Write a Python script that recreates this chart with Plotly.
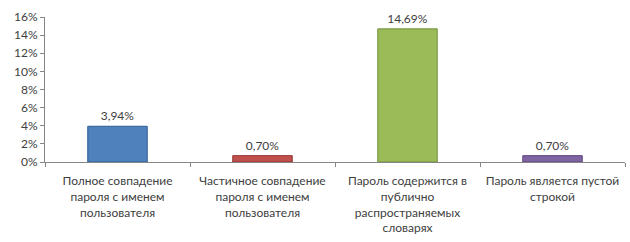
import plotly.graph_objects as go

categories = [
    "Полное совпадение<br>пароля с именем<br>пользователя",
    "Частичное совпадение<br>пароля с именем<br>пользователя",
    "Пароль содержится в<br>публично<br>распространяемых<br>словарях",
    "Пароль является пустой<br>строкой",
]
values = [3.94, 0.70, 14.69, 0.70]
colors = ["#4F81BD", "#C0504D", "#9BBB59", "#8064A2"]
lines = ["#2C5C98", "#94302D", "#71913A", "#5A4380"]
tick_vals = [0, 2, 4, 6, 8, 10, 12, 14, 16]
tick_text = ["0%", "2%", "4%", "6%", "8%", "10%", "12%", "14%", "16%"]

fig = go.Figure(go.Bar(
    x=categories,
    y=values,
    marker=dict(color=colors, line=dict(color=lines, width=1)),
    text=[("%.2f%%" % v).replace(".", ",") for v in values],
    textposition="outside",
    textfont=dict(size=12, color="#404040"),
    cliponaxis=False,
))

fig.update_layout(
    width=630, height=242,
    margin=dict(l=45, r=5, t=17, b=80),
    paper_bgcolor="white", plot_bgcolor="white",
    bargap=0.59,
    showlegend=False,
    font=dict(family="Lato, Open Sans, sans-serif", size=12, color="#404040"),
)
fig.update_yaxes(
    range=[0, 16], tickvals=tick_vals, ticktext=tick_text,
    showgrid=False, zeroline=False,
    showline=True, linecolor="#868686", linewidth=1,
    ticks="outside", ticklen=4, tickcolor="#868686",
    tickfont=dict(size=12),
)
fig.update_xaxes(
    showgrid=False, showline=True, linecolor="#868686", linewidth=1,
    ticks="outside", tickson="boundaries", ticklen=4, tickcolor="#868686",
    tickfont=dict(size=12), tickangle=0, ticklabelstandoff=8,
)

fig.write_html("out.html")
